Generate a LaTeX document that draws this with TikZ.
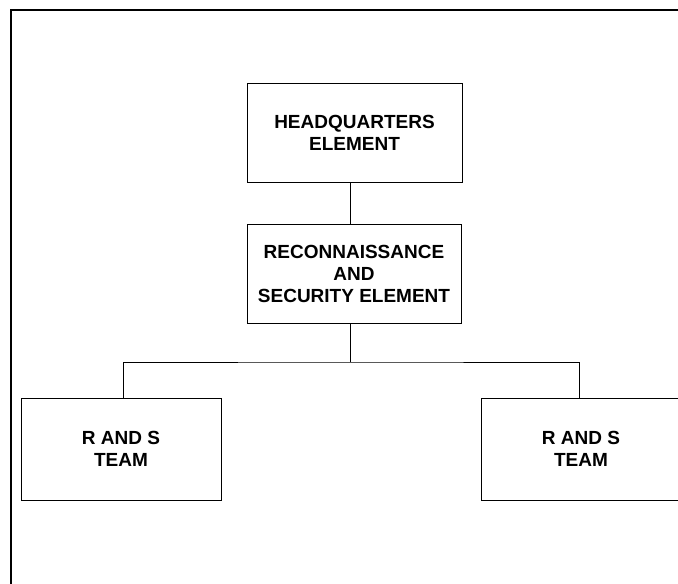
\documentclass[tikz,border=0pt]{standalone}
\usepackage{fontspec}
\setmainfont{Liberation Sans}
\begin{document}
\begin{tikzpicture}[x=1pt,y=-1pt,
  unitbox/.style={draw,line width=1pt,align=center,inner sep=0pt,
    font=\bfseries\fontsize{19}{22}\selectfont},
  link/.style={line width=1pt}]
\useasboundingbox (0,0) rectangle (678,584);
\clip (0,0) rectangle (678,584);
% page frame (open on the right and at the bottom)
\draw[line width=1.5pt] (11,590) -- (11,10) -- (690,10);
% units
\node[unitbox,minimum width=215pt,minimum height=99pt] (hq) at (354.5,132.5)
  {HEADQUARTERS\\ELEMENT};
\node[unitbox,minimum width=214pt,minimum height=99pt] (rs) at (354,273.5)
  {RECONNAISSANCE\\AND\\SECURITY ELEMENT};
\node[unitbox,minimum width=200pt,minimum height=102pt] (lt) at (121,449)
  {R AND S\\TEAM};
\node[unitbox,minimum width=200pt,minimum height=102pt] (rt) at (581,449)
  {R AND S\\TEAM};
% connectors
\coordinate (j) at (350,362);
\draw[link] (hq.south -| j) -- (rs.north -| j);
\draw[link] (rs.south -| j) -- (j);
\draw[link] ([xshift=2pt]lt.north) |- (j) -| ([xshift=-2pt]rt.north);
\end{tikzpicture}
\end{document}
